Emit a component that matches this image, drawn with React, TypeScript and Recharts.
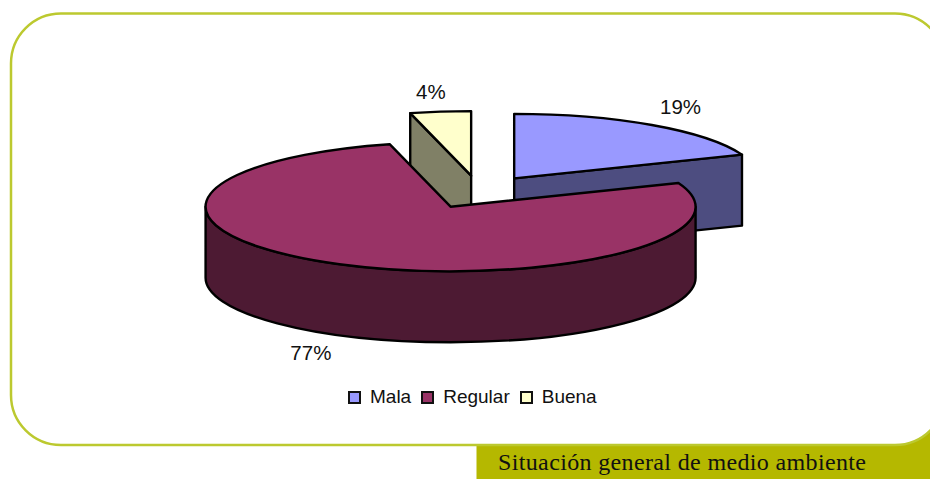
import React from "react";
import { PieChart, Pie, Legend } from "recharts";

const categories = ["Mala", "Regular", "Buena"];
const values = [19, 77, 4];
const topColors = ["#9999FF", "#993366", "#FFFFCC"];
const sideColors = ["#4D4D80", "#4D1A33", "#808066"];
const caption = "Situación general de medio ambiente";

const rows = categories.map((name, i) => ({
  name,
  value: values[i],
  fill: topColors[i],
  side: sideColors[i],
}));

const WIDTH = 930;
const HEIGHT = 479;
const CX = 479;
const CY = 192;
const RX = 245;
const TILT = 64.5 / 245;
const DEPTH = 71;
const EXPLODE = 62.6;
const OUTLINE = "#000";
const LABEL_FONT = '"Liberation Sans", Arial, sans-serif';

const rad = (d: number) => (d * Math.PI) / 180;

function slicePaths(p: any) {
  // Recharts angles: 0 = east, counter-clockwise, decreasing along the sweep.
  const mid = rad(p.midAngle);
  const ox = p.cx + EXPLODE * Math.cos(mid);
  const oy = p.cy - EXPLODE * TILT * Math.sin(mid);
  const rx = p.outerRadius;
  const ry = rx * TILT;
  const at = (deg: number, drop = 0) => ({
    x: ox + rx * Math.cos(rad(deg)),
    y: oy - ry * Math.sin(rad(deg)) + drop,
  });
  return { ox, oy, rx, ry, at };
}

function Slice3D(props: any) {
  const { startAngle: a0, endAngle: a1, fill, payload } = props;
  const { ox, oy, rx, ry, at } = slicePaths(props);
  const side = payload.side;
  const s = at(a0);
  const e = at(a1);
  const large = Math.abs(a0 - a1) > 180 ? 1 : 0;
  const top = `M${ox} ${oy} L${s.x} ${s.y} A${rx} ${ry} 0 ${large} 1 ${e.x} ${e.y} Z`;

  const stroke = { stroke: OUTLINE, strokeWidth: 2.4, strokeLinejoin: "round" as const };
  const faces: React.ReactNode[] = [];
  const quad = (p: { x: number; y: number }, key: string) => (
    <path
      key={key}
      d={`M${ox} ${oy} L${p.x} ${p.y} L${p.x} ${p.y + DEPTH} L${ox} ${oy + DEPTH} Z`}
      fill={side}
      {...stroke}
    />
  );
  // A cut face shows only when it looks toward the viewer.
  if (Math.cos(rad(a0)) < -0.001) faces.push(quad(s, "start"));
  if (Math.cos(rad(a1)) > 0.001) faces.push(quad(e, "end"));

  // Outer wall: the part of the arc on the front half (angles -180..0).
  const wallFrom = Math.min(a0, 0);
  const wallTo = Math.max(a1, -180);
  if (wallFrom > wallTo) {
    const w0 = at(wallFrom);
    const w1 = at(wallTo);
    const big = wallFrom - wallTo > 180 ? 1 : 0;
    faces.push(
      <path
        key="wall"
        d={`M${w0.x} ${w0.y} A${rx} ${ry} 0 ${big} 1 ${w1.x} ${w1.y} L${w1.x} ${w1.y + DEPTH} A${rx} ${ry} 0 ${big} 0 ${w0.x} ${w0.y + DEPTH} Z`}
        fill={side}
        {...stroke}
      />
    );
  }
  return (
    <g>
      {faces}
      <path d={top} fill={fill} {...stroke} />
    </g>
  );
}

const backShape = (p: any) => (p.payload.name === "Regular" ? <g /> : <Slice3D {...p} />);
const frontShape = (p: any) => (p.payload.name === "Regular" ? <Slice3D {...p} /> : <g />);

const labelNudge: Record<string, [number, number]> = {
  Mala: [-14, -2],
  Regular: [6, 0],
  Buena: [0, 0],
};

function renderLabel(p: any) {
  const { ox, oy, rx, ry } = slicePaths(p);
  const mid = rad(p.midAngle);
  const f = 1.31;
  const front = Math.sin(mid) < 0;
  const [nx, ny] = labelNudge[p.payload.name];
  return (
    <text
      x={ox + rx * f * Math.cos(mid) + nx}
      y={oy - ry * f * Math.sin(mid) + (front ? DEPTH : 0) + ny}
      textAnchor="middle"
      dominantBaseline="central"
      fontFamily={LABEL_FONT}
      fontSize={20.5}
      fill="#111"
    >
      {`${p.value}%`}
    </text>
  );
}

function LegendContent() {
  return (
    <div
      style={{
        display: "flex",
        alignItems: "center",
        fontFamily: LABEL_FONT,
        fontSize: 19,
        color: "#111",
        lineHeight: "24px",
      }}
    >
      {rows.map((r) => (
        <span key={r.name} style={{ display: "inline-flex", alignItems: "center", marginRight: 10 }}>
          <span
            style={{
              width: 9,
              height: 9,
              border: "2px solid #111",
              background: r.fill,
              marginRight: 9,
              display: "inline-block",
            }}
          />
          {r.name}
        </span>
      ))}
    </div>
  );
}

export default function App() {
  return (
    <div
      style={{
        position: "fixed",
        left: 0,
        top: 0,
        width: WIDTH,
        height: HEIGHT,
        background: "#fff",
        overflow: "hidden",
      }}
    >
      <svg width={WIDTH} height={HEIGHT} style={{ position: "absolute", left: 0, top: 0 }}>
        <path d="M476.5 445 H895 A50 50 0 0 0 945 395 V479 H476.5 Z" fill="#B5B800" />
        <rect x={11} y={13.5} width={934} height={431.5} rx={50} ry={50} fill="none" stroke="#BCC92F" strokeWidth={2.5} />
        <text
          x={498}
          y={470}
          fontFamily='"Liberation Serif", "Times New Roman", serif'
          fontSize={24}
          textLength={368}
          lengthAdjust="spacing"
          fill="#111"
        >
          {caption}
        </text>
      </svg>
      <div style={{ position: "absolute", left: 0, top: 0 }}>
        <PieChart width={WIDTH} height={HEIGHT} margin={{ top: 0, right: 0, bottom: 0, left: 0 }}>
          <Pie
            data={rows}
            dataKey="value"
            nameKey="name"
            cx={CX}
            cy={CY}
            outerRadius={RX}
            startAngle={90}
            endAngle={-270}
            shape={backShape}
            isAnimationActive={false}
            legendType="none"
          />
          <Pie
            data={rows}
            dataKey="value"
            nameKey="name"
            cx={CX}
            cy={CY}
            outerRadius={RX}
            startAngle={90}
            endAngle={-270}
            shape={frontShape}
            label={renderLabel}
            labelLine={false}
            isAnimationActive={false}
            legendType="none"
          />
          <Legend
            content={<LegendContent />}
            verticalAlign="bottom"
            wrapperStyle={{ top: 385, left: 348, bottom: "auto", width: 300 }}
          />
        </PieChart>
      </div>
    </div>
  );
}
